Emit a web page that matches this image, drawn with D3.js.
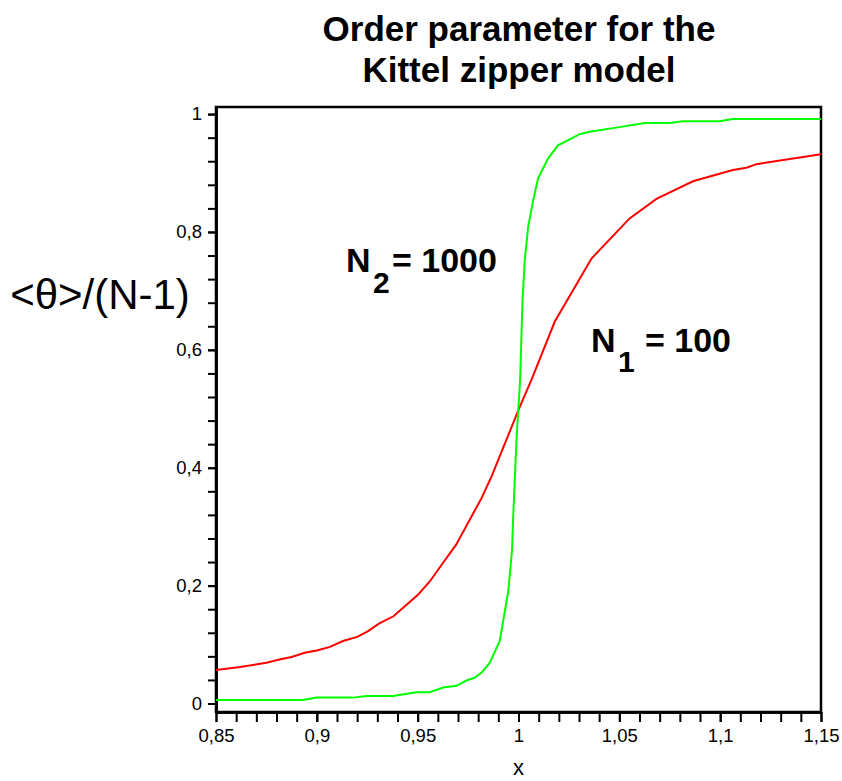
<!DOCTYPE html>
<html>
<head>
<meta charset="utf-8">
<script src="https://cdn.jsdelivr.net/npm/d3@7"></script>
<style>
  body { margin: 0; background: #fff; }
  text { font-family: "Liberation Sans", Arial, sans-serif; }
</style>
</head>
<body>
<div id="chart"></div>
<script>
// Kittel zipper model - order parameter

const WIDTH = 842;
const HEIGHT = 781;
const MARGINS = {left: 216, right: 21, top: 107, bottom: 69};

// data
const xRed = [0.85, 0.862, 0.875, 0.882, 0.8875, 0.894, 0.9, 0.9065, 0.913, 0.92, 0.925, 0.931, 0.938,
              0.95, 0.956, 0.9635, 0.969, 0.9816, 0.9866, 1.0, 1.0064, 1.018, 1.0362, 1.0551, 1.0684,
              1.0865, 1.1063, 1.113, 1.118, 1.15];
const yRed = [0.057, 0.062, 0.069, 0.075, 0.079, 0.086, 0.090, 0.096, 0.106, 0.113, 0.122, 0.136, 0.148,
              0.184, 0.207, 0.243, 0.269, 0.348, 0.385, 0.498, 0.549, 0.648, 0.755, 0.823, 0.856,
              0.886, 0.905, 0.909, 0.915, 0.932];

const xGreen = [0.85, 0.893, 0.9, 0.918, 0.9246, 0.9378, 0.9494, 0.956, 0.9626, 0.9692, 0.9742, 0.9783,
                0.9816, 0.9857, 0.9907, 0.9949, 0.9968, 0.9973, 0.999, 1.0008, 1.002, 1.0031, 1.0048,
                1.0073, 1.0097, 1.0147, 1.0196, 1.0304, 1.0353, 1.0485, 1.0626, 1.075, 1.0815, 1.0997,
                1.1063, 1.15];
const yGreen = [0.006, 0.006, 0.010, 0.010, 0.0127, 0.0127, 0.019, 0.019, 0.027, 0.030, 0.039, 0.044,
                0.052, 0.069, 0.106, 0.19, 0.26, 0.311, 0.447, 0.549, 0.684, 0.752, 0.809,
                0.854, 0.891, 0.925, 0.947, 0.966, 0.970, 0.977, 0.985, 0.985, 0.988, 0.988,
                0.9915, 0.9915];

const xMajor = [0.85, 0.9, 0.95, 1, 1.05, 1.1, 1.15];
const yMajor = [0, 0.2, 0.4, 0.6, 0.8, 1];
const xMinor = d3.range(0, 31).map(i => +(0.85 + i * 0.01).toFixed(2));
const yMinor = d3.range(0, 26).map(i => +(i * 0.04).toFixed(2));

const svg = d3.select('#chart')
  .append('svg')
    .attr('width', WIDTH)
    .attr('height', HEIGHT);

const xScale = d3.scaleLinear()
  .domain([0.85, 1.15])
  .range([MARGINS.left, WIDTH - MARGINS.right]);

const yScale = d3.scaleLinear()
  .domain([-0.0144, 1.012])
  .range([HEIGHT - MARGINS.bottom, MARGINS.top]);

const fmt = d => String(+d.toFixed(2)).replace('.', ',');

// frame
svg.append('rect')
  .attr('x', MARGINS.left)
  .attr('y', MARGINS.top)
  .attr('width', WIDTH - MARGINS.left - MARGINS.right)
  .attr('height', HEIGHT - MARGINS.top - MARGINS.bottom)
  .attr('fill', 'none')
  .attr('stroke', '#000')
  .attr('stroke-width', 2.5);

// axes
const xAxisG = svg.append('g')
  .attr('transform', 'translate(0,' + (HEIGHT - MARGINS.bottom) + ')');
xAxisG.call(d3.axisBottom(xScale).tickValues(xMinor).tickFormat('').tickSize(10).tickSizeOuter(0));
xAxisG.append('g')
  .call(d3.axisBottom(xScale).tickValues(xMajor).tickFormat(fmt).tickSize(10).tickSizeOuter(0).tickPadding(7));

const yAxisG = svg.append('g')
  .attr('transform', 'translate(' + MARGINS.left + ',0)');
yAxisG.call(d3.axisLeft(yScale).tickValues(yMinor).tickFormat('').tickSize(8).tickSizeOuter(0));
yAxisG.append('g')
  .call(d3.axisLeft(yScale).tickValues(yMajor).tickFormat(fmt).tickSize(8).tickSizeOuter(0).tickPadding(6));

svg.selectAll('.domain').attr('stroke-width', 2.5);
svg.selectAll('.tick line').attr('stroke-width', 2);
svg.selectAll('.tick text')
  .attr('font-size', '18.5px')
  .attr('fill', '#000')
  .style('font-family', '"Liberation Sans", Arial, sans-serif');

// lines
const line = d3.line()
  .x(d => xScale(d[0]))
  .y(d => yScale(d[1]));

svg.append('path')
  .datum(xRed.map((x, i) => [x, yRed[i]]))
  .attr('d', line)
  .attr('fill', 'none')
  .attr('stroke', '#ff0000')
  .attr('stroke-width', 2);

svg.append('path')
  .datum(xGreen.map((x, i) => [x, yGreen[i]]))
  .attr('d', line)
  .attr('fill', 'none')
  .attr('stroke', '#00ff00')
  .attr('stroke-width', 2);

// titles and labels
svg.append('text')
  .attr('x', 519).attr('y', 41)
  .attr('text-anchor', 'middle')
  .attr('font-size', '35px').attr('font-weight', 'bold')
  .text('Order parameter for the');
svg.append('text')
  .attr('x', 519).attr('y', 82)
  .attr('text-anchor', 'middle')
  .attr('font-size', '35px').attr('font-weight', 'bold')
  .text('Kittel zipper model');

svg.append('text')
  .attr('x', 100).attr('y', 309)
  .attr('text-anchor', 'middle')
  .attr('font-size', '42px')
  .text('<θ>/(N-1)');

svg.append('text')
  .attr('x', xScale(1)).attr('y', 775)
  .attr('text-anchor', 'middle')
  .attr('font-size', '22px')
  .text('x');

// N2 = 1000
const n2 = svg.append('text').attr('x', 346).attr('y', 272)
  .attr('font-size', '34px').attr('font-weight', 'bold');
n2.append('tspan').text('N');
n2.append('tspan').attr('x', 373).attr('y', 293).attr('font-size', '30px').text('2');
n2.append('tspan').attr('x', 392).attr('y', 272).text('= 1000');

// N1 = 100
const n1 = svg.append('text').attr('x', 591).attr('y', 352)
  .attr('font-size', '34px').attr('font-weight', 'bold');
n1.append('tspan').text('N');
n1.append('tspan').attr('x', 618).attr('y', 372).attr('font-size', '30px').text('1');
n1.append('tspan').attr('x', 645).attr('y', 352).text('= 100');
</script>
</body>
</html>
